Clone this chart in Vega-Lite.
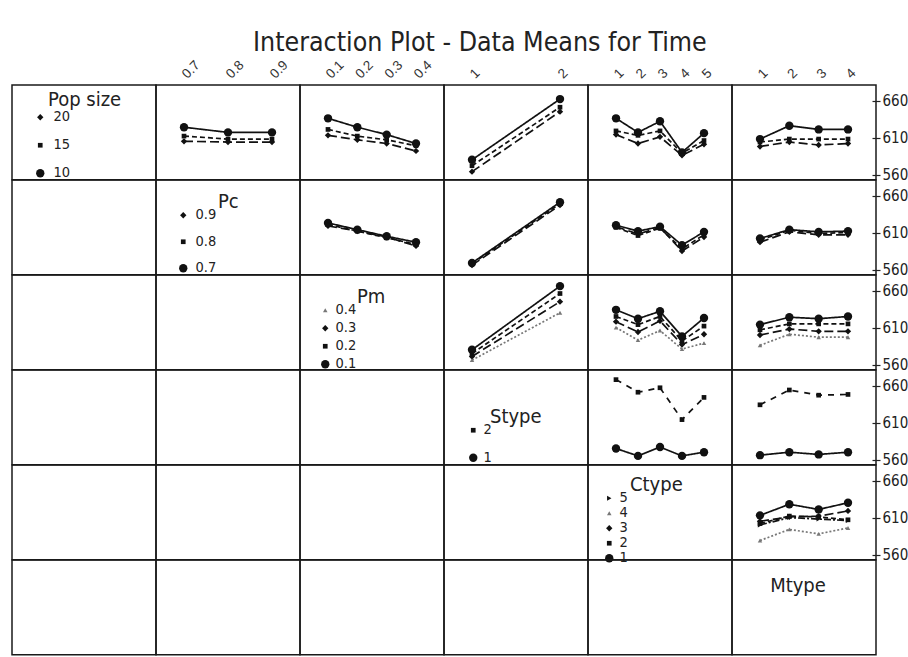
{
  "$schema": "https://vega.github.io/schema/vega-lite/v6.json",
  "padding": {"left": 11, "top": 29, "right": 0, "bottom": 0},
  "title": {"text": "Interaction Plot - Data Means for Time", "fontSize": 26.5, "font": "Liberation Sans Narrow, DejaVu Sans Condensed, Liberation Sans", "fontWeight": "normal", "color": "#222", "anchor": "middle", "offset": 1, "dx": 20},
  "data": {"name": "means"},
  "datasets": {
    "means": [
      {"trace": "Pop size", "xfactor": "Pc", "xlevel": "0.7", "tlevel": "10", "time": 624},
      {"trace": "Pop size", "xfactor": "Pc", "xlevel": "0.8", "tlevel": "10", "time": 617},
      {"trace": "Pop size", "xfactor": "Pc", "xlevel": "0.9", "tlevel": "10", "time": 617},
      {"trace": "Pop size", "xfactor": "Pc", "xlevel": "0.7", "tlevel": "15", "time": 612},
      {"trace": "Pop size", "xfactor": "Pc", "xlevel": "0.8", "tlevel": "15", "time": 608},
      {"trace": "Pop size", "xfactor": "Pc", "xlevel": "0.9", "tlevel": "15", "time": 608},
      {"trace": "Pop size", "xfactor": "Pc", "xlevel": "0.7", "tlevel": "20", "time": 605},
      {"trace": "Pop size", "xfactor": "Pc", "xlevel": "0.8", "tlevel": "20", "time": 604},
      {"trace": "Pop size", "xfactor": "Pc", "xlevel": "0.9", "tlevel": "20", "time": 604},
      {"trace": "Pop size", "xfactor": "Pm", "xlevel": "0.1", "tlevel": "10", "time": 636},
      {"trace": "Pop size", "xfactor": "Pm", "xlevel": "0.2", "tlevel": "10", "time": 624},
      {"trace": "Pop size", "xfactor": "Pm", "xlevel": "0.3", "tlevel": "10", "time": 614},
      {"trace": "Pop size", "xfactor": "Pm", "xlevel": "0.4", "tlevel": "10", "time": 602},
      {"trace": "Pop size", "xfactor": "Pm", "xlevel": "0.1", "tlevel": "15", "time": 621},
      {"trace": "Pop size", "xfactor": "Pm", "xlevel": "0.2", "tlevel": "15", "time": 612},
      {"trace": "Pop size", "xfactor": "Pm", "xlevel": "0.3", "tlevel": "15", "time": 607},
      {"trace": "Pop size", "xfactor": "Pm", "xlevel": "0.4", "tlevel": "15", "time": 599},
      {"trace": "Pop size", "xfactor": "Pm", "xlevel": "0.1", "tlevel": "20", "time": 613},
      {"trace": "Pop size", "xfactor": "Pm", "xlevel": "0.2", "tlevel": "20", "time": 607},
      {"trace": "Pop size", "xfactor": "Pm", "xlevel": "0.3", "tlevel": "20", "time": 602},
      {"trace": "Pop size", "xfactor": "Pm", "xlevel": "0.4", "tlevel": "20", "time": 592},
      {"trace": "Pop size", "xfactor": "Stype", "xlevel": "1", "tlevel": "10", "time": 580},
      {"trace": "Pop size", "xfactor": "Stype", "xlevel": "2", "tlevel": "10", "time": 662},
      {"trace": "Pop size", "xfactor": "Stype", "xlevel": "1", "tlevel": "15", "time": 572},
      {"trace": "Pop size", "xfactor": "Stype", "xlevel": "2", "tlevel": "15", "time": 651},
      {"trace": "Pop size", "xfactor": "Stype", "xlevel": "1", "tlevel": "20", "time": 564},
      {"trace": "Pop size", "xfactor": "Stype", "xlevel": "2", "tlevel": "20", "time": 645},
      {"trace": "Pop size", "xfactor": "Ctype", "xlevel": "1", "tlevel": "10", "time": 636},
      {"trace": "Pop size", "xfactor": "Ctype", "xlevel": "2", "tlevel": "10", "time": 617},
      {"trace": "Pop size", "xfactor": "Ctype", "xlevel": "3", "tlevel": "10", "time": 632},
      {"trace": "Pop size", "xfactor": "Ctype", "xlevel": "4", "tlevel": "10", "time": 590},
      {"trace": "Pop size", "xfactor": "Ctype", "xlevel": "5", "tlevel": "10", "time": 616},
      {"trace": "Pop size", "xfactor": "Ctype", "xlevel": "1", "tlevel": "15", "time": 619},
      {"trace": "Pop size", "xfactor": "Ctype", "xlevel": "2", "tlevel": "15", "time": 613},
      {"trace": "Pop size", "xfactor": "Ctype", "xlevel": "3", "tlevel": "15", "time": 619},
      {"trace": "Pop size", "xfactor": "Ctype", "xlevel": "4", "tlevel": "15", "time": 589},
      {"trace": "Pop size", "xfactor": "Ctype", "xlevel": "5", "tlevel": "15", "time": 606},
      {"trace": "Pop size", "xfactor": "Ctype", "xlevel": "1", "tlevel": "20", "time": 614},
      {"trace": "Pop size", "xfactor": "Ctype", "xlevel": "2", "tlevel": "20", "time": 602},
      {"trace": "Pop size", "xfactor": "Ctype", "xlevel": "3", "tlevel": "20", "time": 611},
      {"trace": "Pop size", "xfactor": "Ctype", "xlevel": "4", "tlevel": "20", "time": 586},
      {"trace": "Pop size", "xfactor": "Ctype", "xlevel": "5", "tlevel": "20", "time": 601},
      {"trace": "Pop size", "xfactor": "Mtype", "xlevel": "1", "tlevel": "10", "time": 608},
      {"trace": "Pop size", "xfactor": "Mtype", "xlevel": "2", "tlevel": "10", "time": 626},
      {"trace": "Pop size", "xfactor": "Mtype", "xlevel": "3", "tlevel": "10", "time": 621},
      {"trace": "Pop size", "xfactor": "Mtype", "xlevel": "4", "tlevel": "10", "time": 621},
      {"trace": "Pop size", "xfactor": "Mtype", "xlevel": "1", "tlevel": "15", "time": 604},
      {"trace": "Pop size", "xfactor": "Mtype", "xlevel": "2", "tlevel": "15", "time": 608},
      {"trace": "Pop size", "xfactor": "Mtype", "xlevel": "3", "tlevel": "15", "time": 608},
      {"trace": "Pop size", "xfactor": "Mtype", "xlevel": "4", "tlevel": "15", "time": 608},
      {"trace": "Pop size", "xfactor": "Mtype", "xlevel": "1", "tlevel": "20", "time": 598},
      {"trace": "Pop size", "xfactor": "Mtype", "xlevel": "2", "tlevel": "20", "time": 604},
      {"trace": "Pop size", "xfactor": "Mtype", "xlevel": "3", "tlevel": "20", "time": 600},
      {"trace": "Pop size", "xfactor": "Mtype", "xlevel": "4", "tlevel": "20", "time": 602},

      {"trace": "Pc", "xfactor": "Pm", "xlevel": "0.1", "tlevel": "0.7", "time": 623},
      {"trace": "Pc", "xfactor": "Pm", "xlevel": "0.2", "tlevel": "0.7", "time": 614},
      {"trace": "Pc", "xfactor": "Pm", "xlevel": "0.3", "tlevel": "0.7", "time": 605},
      {"trace": "Pc", "xfactor": "Pm", "xlevel": "0.4", "tlevel": "0.7", "time": 597},
      {"trace": "Pc", "xfactor": "Pm", "xlevel": "0.1", "tlevel": "0.8", "time": 621},
      {"trace": "Pc", "xfactor": "Pm", "xlevel": "0.2", "tlevel": "0.8", "time": 612},
      {"trace": "Pc", "xfactor": "Pm", "xlevel": "0.3", "tlevel": "0.8", "time": 603},
      {"trace": "Pc", "xfactor": "Pm", "xlevel": "0.4", "tlevel": "0.8", "time": 594},
      {"trace": "Pc", "xfactor": "Pm", "xlevel": "0.1", "tlevel": "0.9", "time": 619},
      {"trace": "Pc", "xfactor": "Pm", "xlevel": "0.2", "tlevel": "0.9", "time": 612},
      {"trace": "Pc", "xfactor": "Pm", "xlevel": "0.3", "tlevel": "0.9", "time": 604},
      {"trace": "Pc", "xfactor": "Pm", "xlevel": "0.4", "tlevel": "0.9", "time": 592},
      {"trace": "Pc", "xfactor": "Stype", "xlevel": "1", "tlevel": "0.7", "time": 569},
      {"trace": "Pc", "xfactor": "Stype", "xlevel": "2", "tlevel": "0.7", "time": 651},
      {"trace": "Pc", "xfactor": "Stype", "xlevel": "1", "tlevel": "0.8", "time": 568},
      {"trace": "Pc", "xfactor": "Stype", "xlevel": "2", "tlevel": "0.8", "time": 649},
      {"trace": "Pc", "xfactor": "Stype", "xlevel": "1", "tlevel": "0.9", "time": 566},
      {"trace": "Pc", "xfactor": "Stype", "xlevel": "2", "tlevel": "0.9", "time": 647},
      {"trace": "Pc", "xfactor": "Ctype", "xlevel": "1", "tlevel": "0.7", "time": 620},
      {"trace": "Pc", "xfactor": "Ctype", "xlevel": "2", "tlevel": "0.7", "time": 612},
      {"trace": "Pc", "xfactor": "Ctype", "xlevel": "3", "tlevel": "0.7", "time": 618},
      {"trace": "Pc", "xfactor": "Ctype", "xlevel": "4", "tlevel": "0.7", "time": 593},
      {"trace": "Pc", "xfactor": "Ctype", "xlevel": "5", "tlevel": "0.7", "time": 611},
      {"trace": "Pc", "xfactor": "Ctype", "xlevel": "1", "tlevel": "0.8", "time": 617},
      {"trace": "Pc", "xfactor": "Ctype", "xlevel": "2", "tlevel": "0.8", "time": 606},
      {"trace": "Pc", "xfactor": "Ctype", "xlevel": "3", "tlevel": "0.8", "time": 616},
      {"trace": "Pc", "xfactor": "Ctype", "xlevel": "4", "tlevel": "0.8", "time": 588},
      {"trace": "Pc", "xfactor": "Ctype", "xlevel": "5", "tlevel": "0.8", "time": 607},
      {"trace": "Pc", "xfactor": "Ctype", "xlevel": "1", "tlevel": "0.9", "time": 618},
      {"trace": "Pc", "xfactor": "Ctype", "xlevel": "2", "tlevel": "0.9", "time": 608},
      {"trace": "Pc", "xfactor": "Ctype", "xlevel": "3", "tlevel": "0.9", "time": 617},
      {"trace": "Pc", "xfactor": "Ctype", "xlevel": "4", "tlevel": "0.9", "time": 585},
      {"trace": "Pc", "xfactor": "Ctype", "xlevel": "5", "tlevel": "0.9", "time": 604},
      {"trace": "Pc", "xfactor": "Mtype", "xlevel": "1", "tlevel": "0.7", "time": 602},
      {"trace": "Pc", "xfactor": "Mtype", "xlevel": "2", "tlevel": "0.7", "time": 614},
      {"trace": "Pc", "xfactor": "Mtype", "xlevel": "3", "tlevel": "0.7", "time": 611},
      {"trace": "Pc", "xfactor": "Mtype", "xlevel": "4", "tlevel": "0.7", "time": 612},
      {"trace": "Pc", "xfactor": "Mtype", "xlevel": "1", "tlevel": "0.8", "time": 600},
      {"trace": "Pc", "xfactor": "Mtype", "xlevel": "2", "tlevel": "0.8", "time": 613},
      {"trace": "Pc", "xfactor": "Mtype", "xlevel": "3", "tlevel": "0.8", "time": 609},
      {"trace": "Pc", "xfactor": "Mtype", "xlevel": "4", "tlevel": "0.8", "time": 610},
      {"trace": "Pc", "xfactor": "Mtype", "xlevel": "1", "tlevel": "0.9", "time": 597},
      {"trace": "Pc", "xfactor": "Mtype", "xlevel": "2", "tlevel": "0.9", "time": 611},
      {"trace": "Pc", "xfactor": "Mtype", "xlevel": "3", "tlevel": "0.9", "time": 607},
      {"trace": "Pc", "xfactor": "Mtype", "xlevel": "4", "tlevel": "0.9", "time": 607},

      {"trace": "Pm", "xfactor": "Stype", "xlevel": "1", "tlevel": "0.1", "time": 580},
      {"trace": "Pm", "xfactor": "Stype", "xlevel": "2", "tlevel": "0.1", "time": 666},
      {"trace": "Pm", "xfactor": "Stype", "xlevel": "1", "tlevel": "0.2", "time": 575},
      {"trace": "Pm", "xfactor": "Stype", "xlevel": "2", "tlevel": "0.2", "time": 656},
      {"trace": "Pm", "xfactor": "Stype", "xlevel": "1", "tlevel": "0.3", "time": 571},
      {"trace": "Pm", "xfactor": "Stype", "xlevel": "2", "tlevel": "0.3", "time": 645},
      {"trace": "Pm", "xfactor": "Stype", "xlevel": "1", "tlevel": "0.4", "time": 566},
      {"trace": "Pm", "xfactor": "Stype", "xlevel": "2", "tlevel": "0.4", "time": 630},
      {"trace": "Pm", "xfactor": "Ctype", "xlevel": "1", "tlevel": "0.1", "time": 634},
      {"trace": "Pm", "xfactor": "Ctype", "xlevel": "2", "tlevel": "0.1", "time": 622},
      {"trace": "Pm", "xfactor": "Ctype", "xlevel": "3", "tlevel": "0.1", "time": 632},
      {"trace": "Pm", "xfactor": "Ctype", "xlevel": "4", "tlevel": "0.1", "time": 598},
      {"trace": "Pm", "xfactor": "Ctype", "xlevel": "5", "tlevel": "0.1", "time": 623},
      {"trace": "Pm", "xfactor": "Ctype", "xlevel": "1", "tlevel": "0.2", "time": 625},
      {"trace": "Pm", "xfactor": "Ctype", "xlevel": "2", "tlevel": "0.2", "time": 614},
      {"trace": "Pm", "xfactor": "Ctype", "xlevel": "3", "tlevel": "0.2", "time": 625},
      {"trace": "Pm", "xfactor": "Ctype", "xlevel": "4", "tlevel": "0.2", "time": 592},
      {"trace": "Pm", "xfactor": "Ctype", "xlevel": "5", "tlevel": "0.2", "time": 612},
      {"trace": "Pm", "xfactor": "Ctype", "xlevel": "1", "tlevel": "0.3", "time": 618},
      {"trace": "Pm", "xfactor": "Ctype", "xlevel": "2", "tlevel": "0.3", "time": 604},
      {"trace": "Pm", "xfactor": "Ctype", "xlevel": "3", "tlevel": "0.3", "time": 619},
      {"trace": "Pm", "xfactor": "Ctype", "xlevel": "4", "tlevel": "0.3", "time": 587},
      {"trace": "Pm", "xfactor": "Ctype", "xlevel": "5", "tlevel": "0.3", "time": 601},
      {"trace": "Pm", "xfactor": "Ctype", "xlevel": "1", "tlevel": "0.4", "time": 610},
      {"trace": "Pm", "xfactor": "Ctype", "xlevel": "2", "tlevel": "0.4", "time": 593},
      {"trace": "Pm", "xfactor": "Ctype", "xlevel": "3", "tlevel": "0.4", "time": 606},
      {"trace": "Pm", "xfactor": "Ctype", "xlevel": "4", "tlevel": "0.4", "time": 581},
      {"trace": "Pm", "xfactor": "Ctype", "xlevel": "5", "tlevel": "0.4", "time": 589},
      {"trace": "Pm", "xfactor": "Mtype", "xlevel": "1", "tlevel": "0.1", "time": 614},
      {"trace": "Pm", "xfactor": "Mtype", "xlevel": "2", "tlevel": "0.1", "time": 624},
      {"trace": "Pm", "xfactor": "Mtype", "xlevel": "3", "tlevel": "0.1", "time": 622},
      {"trace": "Pm", "xfactor": "Mtype", "xlevel": "4", "tlevel": "0.1", "time": 625},
      {"trace": "Pm", "xfactor": "Mtype", "xlevel": "1", "tlevel": "0.2", "time": 607},
      {"trace": "Pm", "xfactor": "Mtype", "xlevel": "2", "tlevel": "0.2", "time": 615},
      {"trace": "Pm", "xfactor": "Mtype", "xlevel": "3", "tlevel": "0.2", "time": 615},
      {"trace": "Pm", "xfactor": "Mtype", "xlevel": "4", "tlevel": "0.2", "time": 615},
      {"trace": "Pm", "xfactor": "Mtype", "xlevel": "1", "tlevel": "0.3", "time": 600},
      {"trace": "Pm", "xfactor": "Mtype", "xlevel": "2", "tlevel": "0.3", "time": 608},
      {"trace": "Pm", "xfactor": "Mtype", "xlevel": "3", "tlevel": "0.3", "time": 605},
      {"trace": "Pm", "xfactor": "Mtype", "xlevel": "4", "tlevel": "0.3", "time": 605},
      {"trace": "Pm", "xfactor": "Mtype", "xlevel": "1", "tlevel": "0.4", "time": 586},
      {"trace": "Pm", "xfactor": "Mtype", "xlevel": "2", "tlevel": "0.4", "time": 601},
      {"trace": "Pm", "xfactor": "Mtype", "xlevel": "3", "tlevel": "0.4", "time": 597},
      {"trace": "Pm", "xfactor": "Mtype", "xlevel": "4", "tlevel": "0.4", "time": 597},

      {"trace": "Stype", "xfactor": "Ctype", "xlevel": "1", "tlevel": "1", "time": 575},
      {"trace": "Stype", "xfactor": "Ctype", "xlevel": "2", "tlevel": "1", "time": 565},
      {"trace": "Stype", "xfactor": "Ctype", "xlevel": "3", "tlevel": "1", "time": 577},
      {"trace": "Stype", "xfactor": "Ctype", "xlevel": "4", "tlevel": "1", "time": 565},
      {"trace": "Stype", "xfactor": "Ctype", "xlevel": "5", "tlevel": "1", "time": 570},
      {"trace": "Stype", "xfactor": "Ctype", "xlevel": "1", "tlevel": "2", "time": 668},
      {"trace": "Stype", "xfactor": "Ctype", "xlevel": "2", "tlevel": "2", "time": 651},
      {"trace": "Stype", "xfactor": "Ctype", "xlevel": "3", "tlevel": "2", "time": 657},
      {"trace": "Stype", "xfactor": "Ctype", "xlevel": "4", "tlevel": "2", "time": 614},
      {"trace": "Stype", "xfactor": "Ctype", "xlevel": "5", "tlevel": "2", "time": 644},
      {"trace": "Stype", "xfactor": "Mtype", "xlevel": "1", "tlevel": "1", "time": 566},
      {"trace": "Stype", "xfactor": "Mtype", "xlevel": "2", "tlevel": "1", "time": 570},
      {"trace": "Stype", "xfactor": "Mtype", "xlevel": "3", "tlevel": "1", "time": 567},
      {"trace": "Stype", "xfactor": "Mtype", "xlevel": "4", "tlevel": "1", "time": 570},
      {"trace": "Stype", "xfactor": "Mtype", "xlevel": "1", "tlevel": "2", "time": 634},
      {"trace": "Stype", "xfactor": "Mtype", "xlevel": "2", "tlevel": "2", "time": 654},
      {"trace": "Stype", "xfactor": "Mtype", "xlevel": "3", "tlevel": "2", "time": 647},
      {"trace": "Stype", "xfactor": "Mtype", "xlevel": "4", "tlevel": "2", "time": 648},

      {"trace": "Ctype", "xfactor": "Mtype", "xlevel": "1", "tlevel": "1", "time": 613},
      {"trace": "Ctype", "xfactor": "Mtype", "xlevel": "2", "tlevel": "1", "time": 628},
      {"trace": "Ctype", "xfactor": "Mtype", "xlevel": "3", "tlevel": "1", "time": 621},
      {"trace": "Ctype", "xfactor": "Mtype", "xlevel": "4", "tlevel": "1", "time": 630},
      {"trace": "Ctype", "xfactor": "Mtype", "xlevel": "1", "tlevel": "2", "time": 602},
      {"trace": "Ctype", "xfactor": "Mtype", "xlevel": "2", "tlevel": "2", "time": 612},
      {"trace": "Ctype", "xfactor": "Mtype", "xlevel": "3", "tlevel": "2", "time": 611},
      {"trace": "Ctype", "xfactor": "Mtype", "xlevel": "4", "tlevel": "2", "time": 607},
      {"trace": "Ctype", "xfactor": "Mtype", "xlevel": "1", "tlevel": "3", "time": 605},
      {"trace": "Ctype", "xfactor": "Mtype", "xlevel": "2", "tlevel": "3", "time": 611},
      {"trace": "Ctype", "xfactor": "Mtype", "xlevel": "3", "tlevel": "3", "time": 612},
      {"trace": "Ctype", "xfactor": "Mtype", "xlevel": "4", "tlevel": "3", "time": 619},
      {"trace": "Ctype", "xfactor": "Mtype", "xlevel": "1", "tlevel": "4", "time": 579},
      {"trace": "Ctype", "xfactor": "Mtype", "xlevel": "2", "tlevel": "4", "time": 594},
      {"trace": "Ctype", "xfactor": "Mtype", "xlevel": "3", "tlevel": "4", "time": 588},
      {"trace": "Ctype", "xfactor": "Mtype", "xlevel": "4", "tlevel": "4", "time": 596},
      {"trace": "Ctype", "xfactor": "Mtype", "xlevel": "1", "tlevel": "5", "time": 600},
      {"trace": "Ctype", "xfactor": "Mtype", "xlevel": "2", "tlevel": "5", "time": 610},
      {"trace": "Ctype", "xfactor": "Mtype", "xlevel": "3", "tlevel": "5", "time": 608},
      {"trace": "Ctype", "xfactor": "Mtype", "xlevel": "4", "tlevel": "5", "time": 606}
    ]
  },
  "columns": 6,
  "bounds": "flush",
  "spacing": 0,
  "resolve": {"scale": {"x": "independent", "y": "independent", "shape": "independent", "strokeDash": "independent", "size": "independent", "color": "independent"}, "legend": {"shape": "independent", "size": "independent", "color": "independent", "strokeDash": "independent"}},
  "concat": [
    {
      "width": 144, "height": 94.8,
      "transform": [{"filter": "datum.trace === 'Pop size'"}],
      "mark": {"type": "point", "filled": true, "opacity": 0},
      "encoding": {
        "x": {"field": "xlevel", "type": "nominal", "axis": null},
        "y": {"field": "time", "type": "quantitative", "axis": null},
        "shape": {"field": "tlevel", "type": "nominal", "title": "Pop size", "scale": {"domain": ["20", "15", "10"], "range": ["diamond", "square", "circle"]},
          "legend": {"orient": "none", "legendX": 21, "legendY": 25, "titleOrient": "right", "titleAnchor": "start", "titleBaseline": "bottom", "titleFontSize": 20, "titleFont": "Liberation Sans Narrow, DejaVu Sans Condensed, Liberation Sans", "titleFontWeight": "normal", "titleColor": "#222", "titlePadding": -22, "labelFontSize": 14.5, "labelFont": "Liberation Sans Narrow, DejaVu Sans Condensed, Liberation Sans", "labelColor": "#222", "labelOffset": 6, "rowPadding": 13, "symbolOpacity": 1, "encode": {"symbols": {"update": {"opacity": {"value": 1}}}}}},
        "size": {"field": "tlevel", "type": "nominal", "title": "Pop size", "scale": {"type": "ordinal", "domain": ["20", "15", "10"], "range": [40, 22, 70]},
          "legend": {"orient": "none", "legendX": 21, "legendY": 25, "titleOrient": "right", "titleAnchor": "start", "titleBaseline": "bottom", "titleFontSize": 20, "titleFont": "Liberation Sans Narrow, DejaVu Sans Condensed, Liberation Sans", "titleFontWeight": "normal", "titleColor": "#222", "titlePadding": -22, "labelFontSize": 14.5, "labelFont": "Liberation Sans Narrow, DejaVu Sans Condensed, Liberation Sans", "labelColor": "#222", "labelOffset": 6, "rowPadding": 13, "symbolOpacity": 1, "encode": {"symbols": {"update": {"opacity": {"value": 1}}}}}},
        "color": {"value": "#111"}
      }
    },
    {
      "width": 144, "height": 94.8,
      "transform": [{"filter": "datum.trace === 'Pop size' && datum.xfactor === 'Pc'"}],
      "encoding": {
        "x": {"field": "xlevel", "type": "ordinal", "scale": {"type": "point", "domain": ["0.7", "0.8", "0.9"], "range": [28, 116], "padding": 0},
          "axis": {"orient": "top", "labelAngle": -45, "labelAlign": "left", "labelBaseline": "middle", "ticks": false, "domain": false, "labelPadding": 9, "title": null, "labelFontSize": 13.5, "labelColor": "#333"}},
        "y": {"field": "time", "type": "quantitative", "scale": {"domain": [553, 681], "nice": false, "zero": false}, "axis": null},
        "color": {"field": "tlevel", "type": "nominal", "scale": {"domain": ["10", "15", "20"], "range": ["#111", "#111", "#111"]}, "legend": null}
      },
      "layer": [
        {"mark": {"type": "line", "strokeWidth": 1.7},
         "encoding": {"strokeDash": {"field": "tlevel", "type": "nominal", "scale": {"domain": ["10", "15", "20"], "range": [[1, 0], [5, 3], [9, 4]]}, "legend": null}}},
        {"mark": {"type": "point", "filled": true, "opacity": 1},
         "encoding": {
           "shape": {"field": "tlevel", "type": "nominal", "scale": {"domain": ["10", "15", "20"], "range": ["circle", "square", "diamond"]}, "legend": null},
           "size": {"field": "tlevel", "type": "nominal", "scale": {"type": "ordinal", "domain": ["10", "15", "20"], "range": [70, 22, 40]}, "legend": null}}}
      ]
    },
    {
      "width": 144, "height": 94.8,
      "transform": [{"filter": "datum.trace === 'Pop size' && datum.xfactor === 'Pm'"}],
      "encoding": {
        "x": {"field": "xlevel", "type": "ordinal", "scale": {"type": "point", "domain": ["0.1", "0.2", "0.3", "0.4"], "range": [28, 116], "padding": 0},
          "axis": {"orient": "top", "labelAngle": -45, "labelAlign": "left", "labelBaseline": "middle", "ticks": false, "domain": false, "labelPadding": 9, "title": null, "labelFontSize": 13.5, "labelColor": "#333"}},
        "y": {"field": "time", "type": "quantitative", "scale": {"domain": [553, 681], "nice": false, "zero": false}, "axis": null},
        "color": {"field": "tlevel", "type": "nominal", "scale": {"domain": ["10", "15", "20"], "range": ["#111", "#111", "#111"]}, "legend": null}
      },
      "layer": [
        {"mark": {"type": "line", "strokeWidth": 1.7},
         "encoding": {"strokeDash": {"field": "tlevel", "type": "nominal", "scale": {"domain": ["10", "15", "20"], "range": [[1, 0], [5, 3], [9, 4]]}, "legend": null}}},
        {"mark": {"type": "point", "filled": true, "opacity": 1},
         "encoding": {
           "shape": {"field": "tlevel", "type": "nominal", "scale": {"domain": ["10", "15", "20"], "range": ["circle", "square", "diamond"]}, "legend": null},
           "size": {"field": "tlevel", "type": "nominal", "scale": {"type": "ordinal", "domain": ["10", "15", "20"], "range": [70, 22, 40]}, "legend": null}}}
      ]
    },
    {
      "width": 144, "height": 94.8,
      "transform": [{"filter": "datum.trace === 'Pop size' && datum.xfactor === 'Stype'"}],
      "encoding": {
        "x": {"field": "xlevel", "type": "ordinal", "scale": {"type": "point", "domain": ["1", "2"], "range": [28, 116], "padding": 0},
          "axis": {"orient": "top", "labelAngle": -45, "labelAlign": "left", "labelBaseline": "middle", "ticks": false, "domain": false, "labelPadding": 9, "title": null, "labelFontSize": 13.5, "labelColor": "#333"}},
        "y": {"field": "time", "type": "quantitative", "scale": {"domain": [553, 681], "nice": false, "zero": false}, "axis": null},
        "color": {"field": "tlevel", "type": "nominal", "scale": {"domain": ["10", "15", "20"], "range": ["#111", "#111", "#111"]}, "legend": null}
      },
      "layer": [
        {"mark": {"type": "line", "strokeWidth": 1.7},
         "encoding": {"strokeDash": {"field": "tlevel", "type": "nominal", "scale": {"domain": ["10", "15", "20"], "range": [[1, 0], [5, 3], [9, 4]]}, "legend": null}}},
        {"mark": {"type": "point", "filled": true, "opacity": 1},
         "encoding": {
           "shape": {"field": "tlevel", "type": "nominal", "scale": {"domain": ["10", "15", "20"], "range": ["circle", "square", "diamond"]}, "legend": null},
           "size": {"field": "tlevel", "type": "nominal", "scale": {"type": "ordinal", "domain": ["10", "15", "20"], "range": [70, 22, 40]}, "legend": null}}}
      ]
    },
    {
      "width": 144, "height": 94.8,
      "transform": [{"filter": "datum.trace === 'Pop size' && datum.xfactor === 'Ctype'"}],
      "encoding": {
        "x": {"field": "xlevel", "type": "ordinal", "scale": {"type": "point", "domain": ["1", "2", "3", "4", "5"], "range": [28, 116], "padding": 0},
          "axis": {"orient": "top", "labelAngle": -45, "labelAlign": "left", "labelBaseline": "middle", "ticks": false, "domain": false, "labelPadding": 9, "title": null, "labelFontSize": 13.5, "labelColor": "#333"}},
        "y": {"field": "time", "type": "quantitative", "scale": {"domain": [553, 681], "nice": false, "zero": false}, "axis": null},
        "color": {"field": "tlevel", "type": "nominal", "scale": {"domain": ["10", "15", "20"], "range": ["#111", "#111", "#111"]}, "legend": null}
      },
      "layer": [
        {"mark": {"type": "line", "strokeWidth": 1.7},
         "encoding": {"strokeDash": {"field": "tlevel", "type": "nominal", "scale": {"domain": ["10", "15", "20"], "range": [[1, 0], [5, 3], [9, 4]]}, "legend": null}}},
        {"mark": {"type": "point", "filled": true, "opacity": 1},
         "encoding": {
           "shape": {"field": "tlevel", "type": "nominal", "scale": {"domain": ["10", "15", "20"], "range": ["circle", "square", "diamond"]}, "legend": null},
           "size": {"field": "tlevel", "type": "nominal", "scale": {"type": "ordinal", "domain": ["10", "15", "20"], "range": [70, 22, 40]}, "legend": null}}}
      ]
    },
    {
      "width": 144, "height": 94.8,
      "transform": [{"filter": "datum.trace === 'Pop size' && datum.xfactor === 'Mtype'"}],
      "encoding": {
        "x": {"field": "xlevel", "type": "ordinal", "scale": {"type": "point", "domain": ["1", "2", "3", "4"], "range": [28, 116], "padding": 0},
          "axis": {"orient": "top", "labelAngle": -45, "labelAlign": "left", "labelBaseline": "middle", "ticks": false, "domain": false, "labelPadding": 9, "title": null, "labelFontSize": 13.5, "labelColor": "#333"}},
        "y": {"field": "time", "type": "quantitative", "scale": {"domain": [553, 681], "nice": false, "zero": false},
          "axis": {"orient": "right", "values": [560, 610, 660], "tickSize": 8, "offset": -4, "domain": false, "labelPadding": 2, "labelFontSize": 15, "labelFont": "Liberation Sans Narrow, DejaVu Sans Condensed, Liberation Sans", "title": null, "grid": false, "tickColor": "#222", "labelColor": "#222", "tickWidth": 1.2}},
        "color": {"field": "tlevel", "type": "nominal", "scale": {"domain": ["10", "15", "20"], "range": ["#111", "#111", "#111"]}, "legend": null}
      },
      "layer": [
        {"mark": {"type": "line", "strokeWidth": 1.7},
         "encoding": {"strokeDash": {"field": "tlevel", "type": "nominal", "scale": {"domain": ["10", "15", "20"], "range": [[1, 0], [5, 3], [9, 4]]}, "legend": null}}},
        {"mark": {"type": "point", "filled": true, "opacity": 1},
         "encoding": {
           "shape": {"field": "tlevel", "type": "nominal", "scale": {"domain": ["10", "15", "20"], "range": ["circle", "square", "diamond"]}, "legend": null},
           "size": {"field": "tlevel", "type": "nominal", "scale": {"type": "ordinal", "domain": ["10", "15", "20"], "range": [70, 22, 40]}, "legend": null}}}
      ]
    },

    {"width": 144, "height": 94.8, "transform": [{"filter": "false"}], "mark": "point", "encoding": {"x": {"field": "xlevel", "type": "nominal", "axis": null}, "y": {"field": "time", "type": "quantitative", "axis": null}}},
    {
      "width": 144, "height": 94.8,
      "transform": [{"filter": "datum.trace === 'Pc'"}],
      "mark": {"type": "point", "filled": true, "opacity": 0},
      "encoding": {
        "x": {"field": "xlevel", "type": "nominal", "axis": null},
        "y": {"field": "time", "type": "quantitative", "axis": null},
        "shape": {"field": "tlevel", "type": "nominal", "title": "Pc", "scale": {"domain": ["0.9", "0.8", "0.7"], "range": ["diamond", "square", "circle"]},
          "legend": {"orient": "none", "legendX": 20, "legendY": 28, "titleOrient": "right", "titleAnchor": "start", "titleBaseline": "alphabetic", "titleFontSize": 20, "titleFont": "Liberation Sans Narrow, DejaVu Sans Condensed, Liberation Sans", "titleFontWeight": "normal", "titleColor": "#222", "titlePadding": 2, "labelFontSize": 14.5, "labelFont": "Liberation Sans Narrow, DejaVu Sans Condensed, Liberation Sans", "labelColor": "#222", "labelOffset": 5, "rowPadding": 11.5, "symbolOpacity": 1, "encode": {"symbols": {"update": {"opacity": {"value": 1}}}}}},
        "size": {"field": "tlevel", "type": "nominal", "title": "Pc", "scale": {"type": "ordinal", "domain": ["0.9", "0.8", "0.7"], "range": [40, 22, 70]},
          "legend": {"orient": "none", "legendX": 20, "legendY": 28, "titleOrient": "right", "titleAnchor": "start", "titleBaseline": "alphabetic", "titleFontSize": 20, "titleFont": "Liberation Sans Narrow, DejaVu Sans Condensed, Liberation Sans", "titleFontWeight": "normal", "titleColor": "#222", "titlePadding": 2, "labelFontSize": 14.5, "labelFont": "Liberation Sans Narrow, DejaVu Sans Condensed, Liberation Sans", "labelColor": "#222", "labelOffset": 5, "rowPadding": 11.5, "symbolOpacity": 1, "encode": {"symbols": {"update": {"opacity": {"value": 1}}}}}},
        "color": {"value": "#111"}
      }
    },
    {
      "width": 144, "height": 94.8,
      "transform": [{"filter": "datum.trace === 'Pc' && datum.xfactor === 'Pm'"}],
      "encoding": {
        "x": {"field": "xlevel", "type": "ordinal", "scale": {"type": "point", "domain": ["0.1", "0.2", "0.3", "0.4"], "range": [28, 116], "padding": 0}, "axis": null},
        "y": {"field": "time", "type": "quantitative", "scale": {"domain": [553, 681], "nice": false, "zero": false}, "axis": null},
        "color": {"field": "tlevel", "type": "nominal", "scale": {"domain": ["0.7", "0.8", "0.9"], "range": ["#111", "#111", "#111"]}, "legend": null}
      },
      "layer": [
        {"mark": {"type": "line", "strokeWidth": 1.7},
         "encoding": {"strokeDash": {"field": "tlevel", "type": "nominal", "scale": {"domain": ["0.7", "0.8", "0.9"], "range": [[1, 0], [5, 3], [9, 4]]}, "legend": null}}},
        {"mark": {"type": "point", "filled": true, "opacity": 1},
         "encoding": {
           "shape": {"field": "tlevel", "type": "nominal", "scale": {"domain": ["0.7", "0.8", "0.9"], "range": ["circle", "square", "diamond"]}, "legend": null},
           "size": {"field": "tlevel", "type": "nominal", "scale": {"type": "ordinal", "domain": ["0.7", "0.8", "0.9"], "range": [70, 22, 40]}, "legend": null}}}
      ]
    },
    {
      "width": 144, "height": 94.8,
      "transform": [{"filter": "datum.trace === 'Pc' && datum.xfactor === 'Stype'"}],
      "encoding": {
        "x": {"field": "xlevel", "type": "ordinal", "scale": {"type": "point", "domain": ["1", "2"], "range": [28, 116], "padding": 0}, "axis": null},
        "y": {"field": "time", "type": "quantitative", "scale": {"domain": [553, 681], "nice": false, "zero": false}, "axis": null},
        "color": {"field": "tlevel", "type": "nominal", "scale": {"domain": ["0.7", "0.8", "0.9"], "range": ["#111", "#111", "#111"]}, "legend": null}
      },
      "layer": [
        {"mark": {"type": "line", "strokeWidth": 1.7},
         "encoding": {"strokeDash": {"field": "tlevel", "type": "nominal", "scale": {"domain": ["0.7", "0.8", "0.9"], "range": [[1, 0], [5, 3], [9, 4]]}, "legend": null}}},
        {"mark": {"type": "point", "filled": true, "opacity": 1},
         "encoding": {
           "shape": {"field": "tlevel", "type": "nominal", "scale": {"domain": ["0.7", "0.8", "0.9"], "range": ["circle", "square", "diamond"]}, "legend": null},
           "size": {"field": "tlevel", "type": "nominal", "scale": {"type": "ordinal", "domain": ["0.7", "0.8", "0.9"], "range": [70, 22, 40]}, "legend": null}}}
      ]
    },
    {
      "width": 144, "height": 94.8,
      "transform": [{"filter": "datum.trace === 'Pc' && datum.xfactor === 'Ctype'"}],
      "encoding": {
        "x": {"field": "xlevel", "type": "ordinal", "scale": {"type": "point", "domain": ["1", "2", "3", "4", "5"], "range": [28, 116], "padding": 0}, "axis": null},
        "y": {"field": "time", "type": "quantitative", "scale": {"domain": [553, 681], "nice": false, "zero": false}, "axis": null},
        "color": {"field": "tlevel", "type": "nominal", "scale": {"domain": ["0.7", "0.8", "0.9"], "range": ["#111", "#111", "#111"]}, "legend": null}
      },
      "layer": [
        {"mark": {"type": "line", "strokeWidth": 1.7},
         "encoding": {"strokeDash": {"field": "tlevel", "type": "nominal", "scale": {"domain": ["0.7", "0.8", "0.9"], "range": [[1, 0], [5, 3], [9, 4]]}, "legend": null}}},
        {"mark": {"type": "point", "filled": true, "opacity": 1},
         "encoding": {
           "shape": {"field": "tlevel", "type": "nominal", "scale": {"domain": ["0.7", "0.8", "0.9"], "range": ["circle", "square", "diamond"]}, "legend": null},
           "size": {"field": "tlevel", "type": "nominal", "scale": {"type": "ordinal", "domain": ["0.7", "0.8", "0.9"], "range": [70, 22, 40]}, "legend": null}}}
      ]
    },
    {
      "width": 144, "height": 94.8,
      "transform": [{"filter": "datum.trace === 'Pc' && datum.xfactor === 'Mtype'"}],
      "encoding": {
        "x": {"field": "xlevel", "type": "ordinal", "scale": {"type": "point", "domain": ["1", "2", "3", "4"], "range": [28, 116], "padding": 0}, "axis": null},
        "y": {"field": "time", "type": "quantitative", "scale": {"domain": [553, 681], "nice": false, "zero": false},
          "axis": {"orient": "right", "values": [560, 610, 660], "tickSize": 8, "offset": -4, "domain": false, "labelPadding": 2, "labelFontSize": 15, "labelFont": "Liberation Sans Narrow, DejaVu Sans Condensed, Liberation Sans", "title": null, "grid": false, "tickColor": "#222", "labelColor": "#222", "tickWidth": 1.2}},
        "color": {"field": "tlevel", "type": "nominal", "scale": {"domain": ["0.7", "0.8", "0.9"], "range": ["#111", "#111", "#111"]}, "legend": null}
      },
      "layer": [
        {"mark": {"type": "line", "strokeWidth": 1.7},
         "encoding": {"strokeDash": {"field": "tlevel", "type": "nominal", "scale": {"domain": ["0.7", "0.8", "0.9"], "range": [[1, 0], [5, 3], [9, 4]]}, "legend": null}}},
        {"mark": {"type": "point", "filled": true, "opacity": 1},
         "encoding": {
           "shape": {"field": "tlevel", "type": "nominal", "scale": {"domain": ["0.7", "0.8", "0.9"], "range": ["circle", "square", "diamond"]}, "legend": null},
           "size": {"field": "tlevel", "type": "nominal", "scale": {"type": "ordinal", "domain": ["0.7", "0.8", "0.9"], "range": [70, 22, 40]}, "legend": null}}}
      ]
    },

    {"width": 144, "height": 94.8, "transform": [{"filter": "false"}], "mark": "point", "encoding": {"x": {"field": "xlevel", "type": "nominal", "axis": null}, "y": {"field": "time", "type": "quantitative", "axis": null}}},
    {"width": 144, "height": 94.8, "transform": [{"filter": "false"}], "mark": "point", "encoding": {"x": {"field": "xlevel", "type": "nominal", "axis": null}, "y": {"field": "time", "type": "quantitative", "axis": null}}},
    {
      "width": 144, "height": 94.8,
      "transform": [{"filter": "datum.trace === 'Pm'"}],
      "mark": {"type": "point", "filled": true, "opacity": 0},
      "encoding": {
        "x": {"field": "xlevel", "type": "nominal", "axis": null},
        "y": {"field": "time", "type": "quantitative", "axis": null},
        "shape": {"field": "tlevel", "type": "nominal", "title": "Pm", "scale": {"domain": ["0.4", "0.3", "0.2", "0.1"], "range": ["triangle-up", "diamond", "square", "circle"]},
          "legend": {"orient": "none", "legendX": 18, "legendY": 28, "titleOrient": "right", "titleAnchor": "start", "titleBaseline": "alphabetic", "titleFontSize": 20, "titleFont": "Liberation Sans Narrow, DejaVu Sans Condensed, Liberation Sans", "titleFontWeight": "normal", "titleColor": "#222", "titlePadding": 1, "labelFontSize": 14.5, "labelFont": "Liberation Sans Narrow, DejaVu Sans Condensed, Liberation Sans", "labelColor": "#222", "labelOffset": 3, "rowPadding": 3, "symbolOpacity": 1, "encode": {"symbols": {"update": {"opacity": {"value": 1}}}}}},
        "size": {"field": "tlevel", "type": "nominal", "title": "Pm", "scale": {"type": "ordinal", "domain": ["0.4", "0.3", "0.2", "0.1"], "range": [20, 40, 22, 70]},
          "legend": {"orient": "none", "legendX": 18, "legendY": 28, "titleOrient": "right", "titleAnchor": "start", "titleBaseline": "alphabetic", "titleFontSize": 20, "titleFont": "Liberation Sans Narrow, DejaVu Sans Condensed, Liberation Sans", "titleFontWeight": "normal", "titleColor": "#222", "titlePadding": 1, "labelFontSize": 14.5, "labelFont": "Liberation Sans Narrow, DejaVu Sans Condensed, Liberation Sans", "labelColor": "#222", "labelOffset": 3, "rowPadding": 3, "symbolOpacity": 1, "encode": {"symbols": {"update": {"opacity": {"value": 1}}}}}},
        "color": {"field": "tlevel", "type": "nominal", "title": "Pm", "scale": {"domain": ["0.4", "0.3", "0.2", "0.1"], "range": ["#777", "#111", "#111", "#111"]},
          "legend": {"orient": "none", "legendX": 18, "legendY": 28, "titleOrient": "right", "titleAnchor": "start", "titleBaseline": "alphabetic", "titleFontSize": 20, "titleFont": "Liberation Sans Narrow, DejaVu Sans Condensed, Liberation Sans", "titleFontWeight": "normal", "titleColor": "#222", "titlePadding": 1, "labelFontSize": 14.5, "labelFont": "Liberation Sans Narrow, DejaVu Sans Condensed, Liberation Sans", "labelColor": "#222", "labelOffset": 3, "rowPadding": 3, "symbolOpacity": 1, "encode": {"symbols": {"update": {"opacity": {"value": 1}}}}}}
      }
    },
    {
      "width": 144, "height": 94.8,
      "transform": [{"filter": "datum.trace === 'Pm' && datum.xfactor === 'Stype'"}],
      "encoding": {
        "x": {"field": "xlevel", "type": "ordinal", "scale": {"type": "point", "domain": ["1", "2"], "range": [28, 116], "padding": 0}, "axis": null},
        "y": {"field": "time", "type": "quantitative", "scale": {"domain": [553, 681], "nice": false, "zero": false}, "axis": null},
        "color": {"field": "tlevel", "type": "nominal", "scale": {"domain": ["0.1", "0.2", "0.3", "0.4"], "range": ["#111", "#111", "#111", "#777"]}, "legend": null}
      },
      "layer": [
        {"mark": {"type": "line", "strokeWidth": 1.7},
         "encoding": {"strokeDash": {"field": "tlevel", "type": "nominal", "scale": {"domain": ["0.1", "0.2", "0.3", "0.4"], "range": [[1, 0], [5, 3], [9, 4], [2, 2]]}, "legend": null}}},
        {"mark": {"type": "point", "filled": true, "opacity": 1},
         "encoding": {
           "shape": {"field": "tlevel", "type": "nominal", "scale": {"domain": ["0.1", "0.2", "0.3", "0.4"], "range": ["circle", "square", "diamond", "triangle-up"]}, "legend": null},
           "size": {"field": "tlevel", "type": "nominal", "scale": {"type": "ordinal", "domain": ["0.1", "0.2", "0.3", "0.4"], "range": [70, 22, 40, 20]}, "legend": null}}}
      ]
    },
    {
      "width": 144, "height": 94.8,
      "transform": [{"filter": "datum.trace === 'Pm' && datum.xfactor === 'Ctype'"}],
      "encoding": {
        "x": {"field": "xlevel", "type": "ordinal", "scale": {"type": "point", "domain": ["1", "2", "3", "4", "5"], "range": [28, 116], "padding": 0}, "axis": null},
        "y": {"field": "time", "type": "quantitative", "scale": {"domain": [553, 681], "nice": false, "zero": false}, "axis": null},
        "color": {"field": "tlevel", "type": "nominal", "scale": {"domain": ["0.1", "0.2", "0.3", "0.4"], "range": ["#111", "#111", "#111", "#777"]}, "legend": null}
      },
      "layer": [
        {"mark": {"type": "line", "strokeWidth": 1.7},
         "encoding": {"strokeDash": {"field": "tlevel", "type": "nominal", "scale": {"domain": ["0.1", "0.2", "0.3", "0.4"], "range": [[1, 0], [5, 3], [9, 4], [2, 2]]}, "legend": null}}},
        {"mark": {"type": "point", "filled": true, "opacity": 1},
         "encoding": {
           "shape": {"field": "tlevel", "type": "nominal", "scale": {"domain": ["0.1", "0.2", "0.3", "0.4"], "range": ["circle", "square", "diamond", "triangle-up"]}, "legend": null},
           "size": {"field": "tlevel", "type": "nominal", "scale": {"type": "ordinal", "domain": ["0.1", "0.2", "0.3", "0.4"], "range": [70, 22, 40, 20]}, "legend": null}}}
      ]
    },
    {
      "width": 144, "height": 94.8,
      "transform": [{"filter": "datum.trace === 'Pm' && datum.xfactor === 'Mtype'"}],
      "encoding": {
        "x": {"field": "xlevel", "type": "ordinal", "scale": {"type": "point", "domain": ["1", "2", "3", "4"], "range": [28, 116], "padding": 0}, "axis": null},
        "y": {"field": "time", "type": "quantitative", "scale": {"domain": [553, 681], "nice": false, "zero": false},
          "axis": {"orient": "right", "values": [560, 610, 660], "tickSize": 8, "offset": -4, "domain": false, "labelPadding": 2, "labelFontSize": 15, "labelFont": "Liberation Sans Narrow, DejaVu Sans Condensed, Liberation Sans", "title": null, "grid": false, "tickColor": "#222", "labelColor": "#222", "tickWidth": 1.2}},
        "color": {"field": "tlevel", "type": "nominal", "scale": {"domain": ["0.1", "0.2", "0.3", "0.4"], "range": ["#111", "#111", "#111", "#777"]}, "legend": null}
      },
      "layer": [
        {"mark": {"type": "line", "strokeWidth": 1.7},
         "encoding": {"strokeDash": {"field": "tlevel", "type": "nominal", "scale": {"domain": ["0.1", "0.2", "0.3", "0.4"], "range": [[1, 0], [5, 3], [9, 4], [2, 2]]}, "legend": null}}},
        {"mark": {"type": "point", "filled": true, "opacity": 1},
         "encoding": {
           "shape": {"field": "tlevel", "type": "nominal", "scale": {"domain": ["0.1", "0.2", "0.3", "0.4"], "range": ["circle", "square", "diamond", "triangle-up"]}, "legend": null},
           "size": {"field": "tlevel", "type": "nominal", "scale": {"type": "ordinal", "domain": ["0.1", "0.2", "0.3", "0.4"], "range": [70, 22, 40, 20]}, "legend": null}}}
      ]
    },

    {"width": 144, "height": 94.8, "transform": [{"filter": "false"}], "mark": "point", "encoding": {"x": {"field": "xlevel", "type": "nominal", "axis": null}, "y": {"field": "time", "type": "quantitative", "axis": null}}},
    {"width": 144, "height": 94.8, "transform": [{"filter": "false"}], "mark": "point", "encoding": {"x": {"field": "xlevel", "type": "nominal", "axis": null}, "y": {"field": "time", "type": "quantitative", "axis": null}}},
    {"width": 144, "height": 94.8, "transform": [{"filter": "false"}], "mark": "point", "encoding": {"x": {"field": "xlevel", "type": "nominal", "axis": null}, "y": {"field": "time", "type": "quantitative", "axis": null}}},
    {
      "width": 144, "height": 94.8,
      "transform": [{"filter": "datum.trace === 'Stype'"}],
      "mark": {"type": "point", "filled": true, "opacity": 0},
      "encoding": {
        "x": {"field": "xlevel", "type": "nominal", "axis": null},
        "y": {"field": "time", "type": "quantitative", "axis": null},
        "shape": {"field": "tlevel", "type": "nominal", "title": "Stype", "scale": {"domain": ["2", "1"], "range": ["square", "circle"]},
          "legend": {"orient": "none", "legendX": 22, "legendY": 53, "titleOrient": "right", "titleAnchor": "start", "titleBaseline": "alphabetic", "titleFontSize": 20, "titleFont": "Liberation Sans Narrow, DejaVu Sans Condensed, Liberation Sans", "titleFontWeight": "normal", "titleColor": "#222", "titlePadding": -2, "labelFontSize": 14.5, "labelFont": "Liberation Sans Narrow, DejaVu Sans Condensed, Liberation Sans", "labelColor": "#222", "labelOffset": 3, "rowPadding": 12.5, "symbolOpacity": 1, "encode": {"symbols": {"update": {"opacity": {"value": 1}}}}}},
        "size": {"field": "tlevel", "type": "nominal", "title": "Stype", "scale": {"type": "ordinal", "domain": ["2", "1"], "range": [22, 70]},
          "legend": {"orient": "none", "legendX": 22, "legendY": 53, "titleOrient": "right", "titleAnchor": "start", "titleBaseline": "alphabetic", "titleFontSize": 20, "titleFont": "Liberation Sans Narrow, DejaVu Sans Condensed, Liberation Sans", "titleFontWeight": "normal", "titleColor": "#222", "titlePadding": -2, "labelFontSize": 14.5, "labelFont": "Liberation Sans Narrow, DejaVu Sans Condensed, Liberation Sans", "labelColor": "#222", "labelOffset": 3, "rowPadding": 12.5, "symbolOpacity": 1, "encode": {"symbols": {"update": {"opacity": {"value": 1}}}}}},
        "color": {"value": "#111"}
      }
    },
    {
      "width": 144, "height": 94.8,
      "transform": [{"filter": "datum.trace === 'Stype' && datum.xfactor === 'Ctype'"}],
      "encoding": {
        "x": {"field": "xlevel", "type": "ordinal", "scale": {"type": "point", "domain": ["1", "2", "3", "4", "5"], "range": [28, 116], "padding": 0}, "axis": null},
        "y": {"field": "time", "type": "quantitative", "scale": {"domain": [553, 681], "nice": false, "zero": false}, "axis": null},
        "color": {"field": "tlevel", "type": "nominal", "scale": {"domain": ["1", "2"], "range": ["#111", "#111"]}, "legend": null}
      },
      "layer": [
        {"mark": {"type": "line", "strokeWidth": 1.7},
         "encoding": {"strokeDash": {"field": "tlevel", "type": "nominal", "scale": {"domain": ["1", "2"], "range": [[1, 0], [6, 6]]}, "legend": null}}},
        {"mark": {"type": "point", "filled": true, "opacity": 1},
         "encoding": {
           "shape": {"field": "tlevel", "type": "nominal", "scale": {"domain": ["1", "2"], "range": ["circle", "square"]}, "legend": null},
           "size": {"field": "tlevel", "type": "nominal", "scale": {"type": "ordinal", "domain": ["1", "2"], "range": [70, 22]}, "legend": null}}}
      ]
    },
    {
      "width": 144, "height": 94.8,
      "transform": [{"filter": "datum.trace === 'Stype' && datum.xfactor === 'Mtype'"}],
      "encoding": {
        "x": {"field": "xlevel", "type": "ordinal", "scale": {"type": "point", "domain": ["1", "2", "3", "4"], "range": [28, 116], "padding": 0}, "axis": null},
        "y": {"field": "time", "type": "quantitative", "scale": {"domain": [553, 681], "nice": false, "zero": false},
          "axis": {"orient": "right", "values": [560, 610, 660], "tickSize": 8, "offset": -4, "domain": false, "labelPadding": 2, "labelFontSize": 15, "labelFont": "Liberation Sans Narrow, DejaVu Sans Condensed, Liberation Sans", "title": null, "grid": false, "tickColor": "#222", "labelColor": "#222", "tickWidth": 1.2}},
        "color": {"field": "tlevel", "type": "nominal", "scale": {"domain": ["1", "2"], "range": ["#111", "#111"]}, "legend": null}
      },
      "layer": [
        {"mark": {"type": "line", "strokeWidth": 1.7},
         "encoding": {"strokeDash": {"field": "tlevel", "type": "nominal", "scale": {"domain": ["1", "2"], "range": [[1, 0], [6, 6]]}, "legend": null}}},
        {"mark": {"type": "point", "filled": true, "opacity": 1},
         "encoding": {
           "shape": {"field": "tlevel", "type": "nominal", "scale": {"domain": ["1", "2"], "range": ["circle", "square"]}, "legend": null},
           "size": {"field": "tlevel", "type": "nominal", "scale": {"type": "ordinal", "domain": ["1", "2"], "range": [70, 22]}, "legend": null}}}
      ]
    },

    {"width": 144, "height": 94.8, "transform": [{"filter": "false"}], "mark": "point", "encoding": {"x": {"field": "xlevel", "type": "nominal", "axis": null}, "y": {"field": "time", "type": "quantitative", "axis": null}}},
    {"width": 144, "height": 94.8, "transform": [{"filter": "false"}], "mark": "point", "encoding": {"x": {"field": "xlevel", "type": "nominal", "axis": null}, "y": {"field": "time", "type": "quantitative", "axis": null}}},
    {"width": 144, "height": 94.8, "transform": [{"filter": "false"}], "mark": "point", "encoding": {"x": {"field": "xlevel", "type": "nominal", "axis": null}, "y": {"field": "time", "type": "quantitative", "axis": null}}},
    {"width": 144, "height": 94.8, "transform": [{"filter": "false"}], "mark": "point", "encoding": {"x": {"field": "xlevel", "type": "nominal", "axis": null}, "y": {"field": "time", "type": "quantitative", "axis": null}}},
    {
      "width": 144, "height": 94.8,
      "transform": [{"filter": "datum.trace === 'Ctype'"}],
      "mark": {"type": "point", "filled": true, "opacity": 0},
      "encoding": {
        "x": {"field": "xlevel", "type": "nominal", "axis": null},
        "y": {"field": "time", "type": "quantitative", "axis": null},
        "shape": {"field": "tlevel", "type": "nominal", "title": "Ctype", "scale": {"domain": ["5", "4", "3", "2", "1"], "range": ["triangle-right", "triangle-up", "diamond", "square", "circle"]},
          "legend": {"orient": "none", "legendX": 14, "legendY": 26, "titleOrient": "right", "titleAnchor": "start", "titleBaseline": "alphabetic", "titleFontSize": 20, "titleFont": "Liberation Sans Narrow, DejaVu Sans Condensed, Liberation Sans", "titleFontWeight": "normal", "titleColor": "#222", "titlePadding": 2, "labelFontSize": 14.5, "labelFont": "Liberation Sans Narrow, DejaVu Sans Condensed, Liberation Sans", "labelColor": "#222", "labelOffset": 3, "rowPadding": 0, "symbolOpacity": 1, "encode": {"symbols": {"update": {"opacity": {"value": 1}}}}}},
        "size": {"field": "tlevel", "type": "nominal", "title": "Ctype", "scale": {"type": "ordinal", "domain": ["5", "4", "3", "2", "1"], "range": [25, 20, 40, 22, 70]},
          "legend": {"orient": "none", "legendX": 14, "legendY": 26, "titleOrient": "right", "titleAnchor": "start", "titleBaseline": "alphabetic", "titleFontSize": 20, "titleFont": "Liberation Sans Narrow, DejaVu Sans Condensed, Liberation Sans", "titleFontWeight": "normal", "titleColor": "#222", "titlePadding": 2, "labelFontSize": 14.5, "labelFont": "Liberation Sans Narrow, DejaVu Sans Condensed, Liberation Sans", "labelColor": "#222", "labelOffset": 3, "rowPadding": 0, "symbolOpacity": 1, "encode": {"symbols": {"update": {"opacity": {"value": 1}}}}}},
        "color": {"field": "tlevel", "type": "nominal", "title": "Ctype", "scale": {"domain": ["5", "4", "3", "2", "1"], "range": ["#111", "#777", "#111", "#111", "#111"]},
          "legend": {"orient": "none", "legendX": 14, "legendY": 26, "titleOrient": "right", "titleAnchor": "start", "titleBaseline": "alphabetic", "titleFontSize": 20, "titleFont": "Liberation Sans Narrow, DejaVu Sans Condensed, Liberation Sans", "titleFontWeight": "normal", "titleColor": "#222", "titlePadding": 2, "labelFontSize": 14.5, "labelFont": "Liberation Sans Narrow, DejaVu Sans Condensed, Liberation Sans", "labelColor": "#222", "labelOffset": 3, "rowPadding": 0, "symbolOpacity": 1, "encode": {"symbols": {"update": {"opacity": {"value": 1}}}}}}
      }
    },
    {
      "width": 144, "height": 94.8,
      "transform": [{"filter": "datum.trace === 'Ctype' && datum.xfactor === 'Mtype'"}],
      "encoding": {
        "x": {"field": "xlevel", "type": "ordinal", "scale": {"type": "point", "domain": ["1", "2", "3", "4"], "range": [28, 116], "padding": 0}, "axis": null},
        "y": {"field": "time", "type": "quantitative", "scale": {"domain": [553, 681], "nice": false, "zero": false},
          "axis": {"orient": "right", "values": [560, 610, 660], "tickSize": 8, "offset": -4, "domain": false, "labelPadding": 2, "labelFontSize": 15, "labelFont": "Liberation Sans Narrow, DejaVu Sans Condensed, Liberation Sans", "title": null, "grid": false, "tickColor": "#222", "labelColor": "#222", "tickWidth": 1.2}},
        "color": {"field": "tlevel", "type": "nominal", "scale": {"domain": ["1", "2", "3", "4", "5"], "range": ["#111", "#111", "#111", "#777", "#111"]}, "legend": null}
      },
      "layer": [
        {"mark": {"type": "line", "strokeWidth": 1.7},
         "encoding": {"strokeDash": {"field": "tlevel", "type": "nominal", "scale": {"domain": ["1", "2", "3", "4", "5"], "range": [[1, 0], [5, 3], [9, 4], [2, 2], [7, 2, 2, 2]]}, "legend": null}}},
        {"mark": {"type": "point", "filled": true, "opacity": 1},
         "encoding": {
           "shape": {"field": "tlevel", "type": "nominal", "scale": {"domain": ["1", "2", "3", "4", "5"], "range": ["circle", "square", "diamond", "triangle-up", "triangle-right"]}, "legend": null},
           "size": {"field": "tlevel", "type": "nominal", "scale": {"type": "ordinal", "domain": ["1", "2", "3", "4", "5"], "range": [70, 22, 40, 20, 25]}, "legend": null}}}
      ]
    },

    {"width": 144, "height": 94.8, "transform": [{"filter": "false"}], "mark": "point", "encoding": {"x": {"field": "xlevel", "type": "nominal", "axis": null}, "y": {"field": "time", "type": "quantitative", "axis": null}}},
    {"width": 144, "height": 94.8, "transform": [{"filter": "false"}], "mark": "point", "encoding": {"x": {"field": "xlevel", "type": "nominal", "axis": null}, "y": {"field": "time", "type": "quantitative", "axis": null}}},
    {"width": 144, "height": 94.8, "transform": [{"filter": "false"}], "mark": "point", "encoding": {"x": {"field": "xlevel", "type": "nominal", "axis": null}, "y": {"field": "time", "type": "quantitative", "axis": null}}},
    {"width": 144, "height": 94.8, "transform": [{"filter": "false"}], "mark": "point", "encoding": {"x": {"field": "xlevel", "type": "nominal", "axis": null}, "y": {"field": "time", "type": "quantitative", "axis": null}}},
    {"width": 144, "height": 94.8, "transform": [{"filter": "false"}], "mark": "point", "encoding": {"x": {"field": "xlevel", "type": "nominal", "axis": null}, "y": {"field": "time", "type": "quantitative", "axis": null}}},
    {"width": 144, "height": 94.8, "transform": [{"filter": "false"}], "mark": "point", "encoding": {"x": {"field": "xlevel", "type": "nominal", "axis": null}, "y": {"field": "time", "type": "quantitative", "axis": null}},
     "title": {"text": "Mtype", "orient": "top", "anchor": "middle", "offset": -36, "dx": -6, "fontSize": 20, "font": "Liberation Sans Narrow, DejaVu Sans Condensed, Liberation Sans", "fontWeight": "normal", "color": "#222"}}
  ],
  "config": {
    "font": "Liberation Sans",
    "view": {"stroke": "#1a1a1a", "strokeWidth": 1.5},
    "axis": {"grid": false}
  }
}
